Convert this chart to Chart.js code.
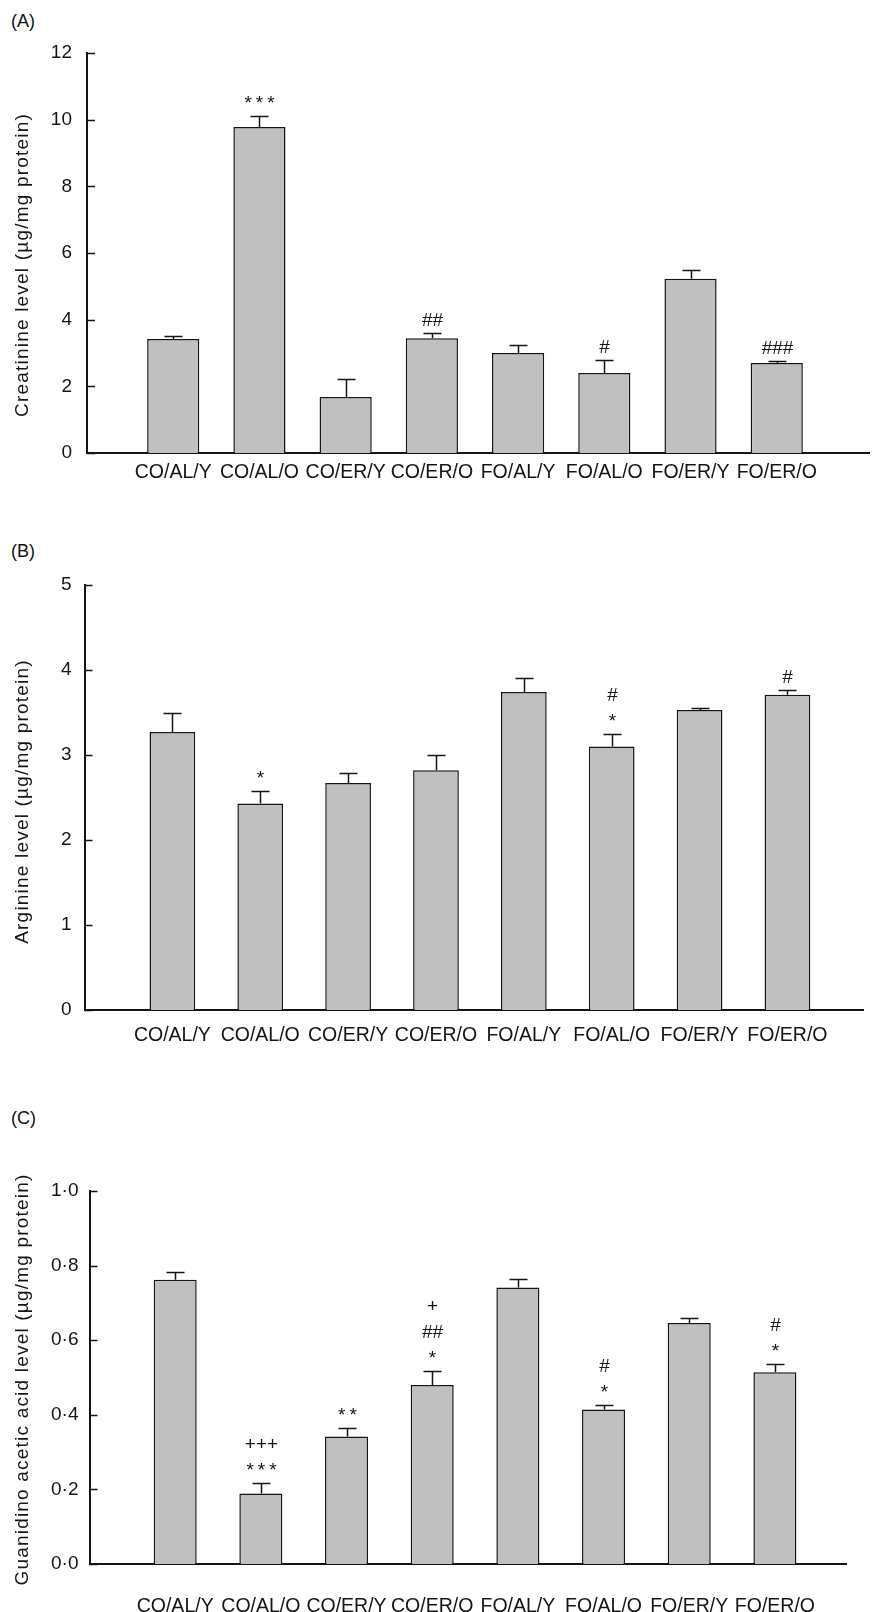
<!DOCTYPE html>
<html>
<head>
<meta charset="utf-8">
<script src="https://cdn.jsdelivr.net/npm/chart.js@4.4.1/dist/chart.umd.min.js"></script>
<style>
  body { margin: 0; background: #fff; }
  #page { position: relative; width: 877px; height: 1612px; overflow: hidden; font-family: "Liberation Sans", Arial, sans-serif; }
  #page canvas { position: absolute; left: 0; }
  .panel-label { position: absolute; left: 11px; font-size: 18px; line-height: 21px; color: #111; }
</style>
</head>
<body>
<div id="page">
  <div class="panel-label" style="top: 11px">(A)</div>
  <canvas id="chartA" width="877" height="500" style="top: 0"></canvas>
  <div class="panel-label" style="top: 541px">(B)</div>
  <canvas id="chartB" width="877" height="520" style="top: 530px"></canvas>
  <div class="panel-label" style="top: 1108px">(C)</div>
  <canvas id="chartC" width="877" height="532" style="top: 1080px"></canvas>
</div>
<script>
const groups = ['CO/AL/Y', 'CO/AL/O', 'CO/ER/Y', 'CO/ER/O', 'FO/AL/Y', 'FO/AL/O', 'FO/ER/Y', 'FO/ER/O'];

// (A) creatinine
const creatinine = [3.42, 9.78, 1.68, 3.44, 3.00, 2.40, 5.23, 2.70];
const creatinineSem = [0.10, 0.32, 0.54, 0.17, 0.23, 0.38, 0.25, 0.07];
const creatinineMarks = [[], ['***'], [], ['##'], [], ['#'], [], ['###']];
const creatinineTicks = [0, 2, 4, 6, 8, 10, 12];

// (B) arginine
const arginine = [3.27, 2.43, 2.67, 2.82, 3.74, 3.10, 3.53, 3.71];
const arginineSem = [0.22, 0.15, 0.12, 0.18, 0.17, 0.15, 0.02, 0.06];
const arginineMarks = [[], ['*'], [], [], [], ['*', '#'], [], ['#']];
const arginineTicks = [0, 1, 2, 3, 4, 5];

// (C) guanidino acetic acid
const guanidino = [0.762, 0.189, 0.342, 0.480, 0.741, 0.414, 0.646, 0.514];
const guanidinoSem = [0.022, 0.028, 0.023, 0.038, 0.022, 0.011, 0.013, 0.021];
const guanidinoMarks = [[], ['***', '+++'], ['**'], ['*', '##', '+'], [], ['*', '#'], [], ['*', '#']];
const guanidinoTicks = [0, 0.2, 0.4, 0.6, 0.8, 1.0];

const FONT = '"Liberation Sans", Arial, sans-serif';
const INK = '#151515';

// error bars, inward y ticks, significance marks and the spaced-out y title
const barExtras = {
    id: 'barExtras',
    afterDatasetsDraw(chart, args, opts) {
        const ctx = chart.ctx;
        const xs = chart.scales.x;
        const ys = chart.scales.y;
        ctx.save();
        ctx.strokeStyle = INK;
        ctx.lineWidth = 1.5;

        ys.ticks.forEach(t => {
            const py = Math.round(ys.getPixelForValue(t.value)) + 0.5;
            ctx.beginPath();
            ctx.moveTo(ys.right, py);
            ctx.lineTo(ys.right + 8, py);
            ctx.stroke();
        });

        ctx.fillStyle = INK;
        ctx.font = '19px ' + FONT;
        ctx.textAlign = 'center';
        ctx.textBaseline = 'alphabetic';

        opts.values.forEach((v, i) => {
            const px = Math.round(xs.getPixelForValue(i)) + 0.5;
            const base = ys.getPixelForValue(v);
            const top = Math.round(ys.getPixelForValue(v + opts.errors[i])) + 0.5;
            ctx.beginPath();
            ctx.moveTo(px, base);
            ctx.lineTo(px, top);
            ctx.moveTo(px - 9, top);
            ctx.lineTo(px + 9, top);
            ctx.stroke();

            opts.marks[i].forEach((m, k) => {
                const stars = m[0] === '*';
                ctx.letterSpacing = stars ? '4px' : '0px';
                ctx.fillText(m, px + (stars ? 2 : 0), top - 8 - k * 26);
            });
        });

        ctx.letterSpacing = '1.2px';
        ctx.textBaseline = 'middle';
        ctx.translate(23, (chart.chartArea.top + chart.chartArea.bottom) / 2 + opts.titleShift);
        ctx.rotate(-Math.PI / 2);
        ctx.fillText(opts.title, 0, 0);
        ctx.restore();
    }
};

function makeChart(id, values, errors, marks, ticks, title, fmt, layout) {
    const ctx = document.getElementById(id).getContext('2d');
    return new Chart(ctx, {
        type: 'bar',
        data: {
            datasets: [{
                data: values.map((v, i) => ({x: i, y: v})),
                backgroundColor: '#c0c0c0',
                borderColor: INK,
                borderWidth: 1.5,
                borderSkipped: 'start',
                barPercentage: 0.605,
                categoryPercentage: 1
            }]
        },
        options: {
            responsive: false,
            animation: false,
            devicePixelRatio: 1,
            layout: {padding: {left: 0, right: 0, top: layout.top, bottom: 0}},
            plugins: {
                legend: {display: false},
                tooltip: {enabled: false},
                barExtras: {values: values, errors: errors, marks: marks, title: title, titleShift: layout.titleShift}
            },
            scales: {
                x: {
                    type: 'linear',
                    offset: false,
                    min: -1,
                    max: layout.xMax,
                    grid: {display: false, drawTicks: false},
                    border: {display: true, color: INK, width: 2},
                    ticks: {
                        stepSize: 1,
                        autoSkip: false,
                        maxRotation: 0,
                        padding: layout.xPad,
                        color: INK,
                        font: {family: FONT, size: 19.5},
                        callback: v => groups[v] || ''
                    },
                    afterFit: s => { s.height = layout.xHeight; }
                },
                y: {
                    min: ticks[0],
                    max: ticks[ticks.length - 1],
                    grid: {display: false, drawTicks: false},
                    border: {display: true, color: INK, width: 2},
                    ticks: {
                        stepSize: ticks[1] - ticks[0],
                        padding: layout.yPad,
                        color: INK,
                        font: {family: FONT, size: 19},
                        callback: fmt
                    },
                    afterFit: s => { s.width = layout.axisX; }
                }
            }
        },
        plugins: [barExtras]
    });
}

const intLabel = v => String(v);
const dotLabel = v => v.toFixed(1).replace('.', '\u00b7');

makeChart('chartA', creatinine, creatinineSem, creatinineMarks, creatinineTicks,
    'Creatinine level (\u00b5g/mg protein)', intLabel,
    {top: 53, axisX: 87, xHeight: 47, xMax: 8.07, xPad: 8, yPad: 15, titleShift: 12});

makeChart('chartB', arginine, arginineSem, arginineMarks, arginineTicks,
    'Arginine level (\u00b5g/mg protein)', intLabel,
    {top: 55, axisX: 84.5, xHeight: 40, xMax: 7.86, xPad: 14, yPad: 13, titleShift: 4});

makeChart('chartC', guanidino, guanidinoSem, guanidinoMarks, guanidinoTicks,
    'Guanidino acetic acid level (\u00b5g/mg protein)', dotLabel,
    {top: 111, axisX: 89.5, xHeight: 48, xMax: 7.83, xPad: 31, yPad: 11, titleShift: 2});
</script>
</body>
</html>
